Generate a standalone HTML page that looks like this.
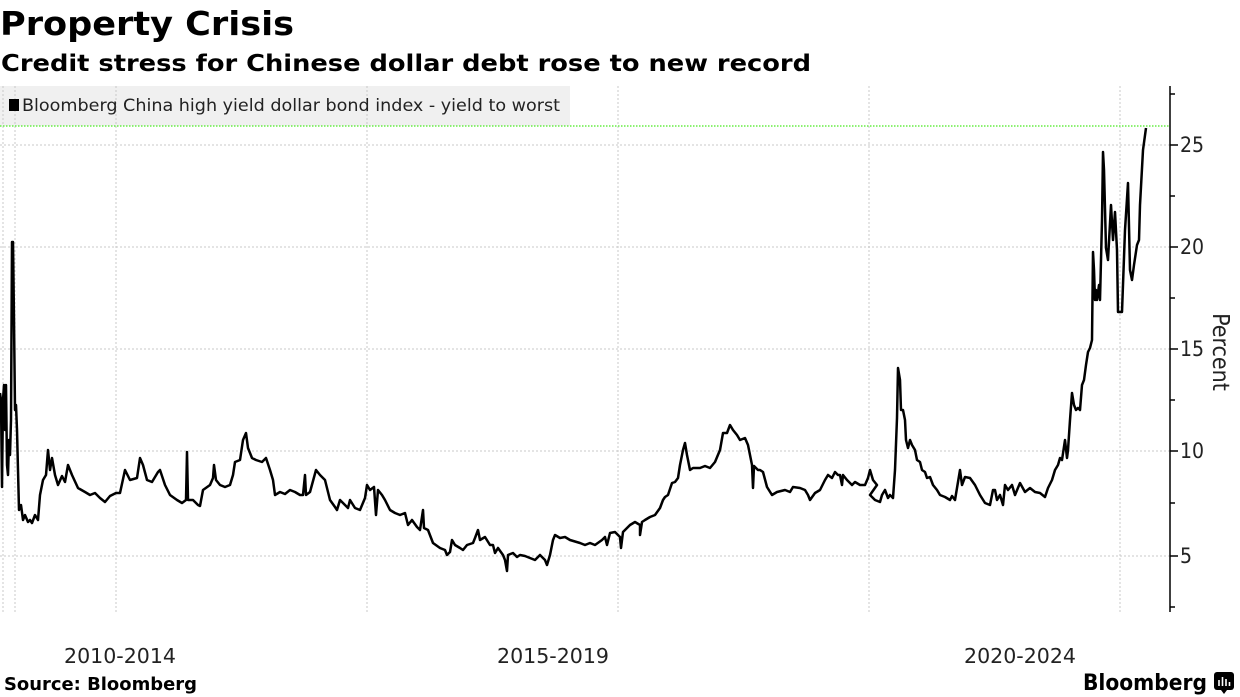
<!DOCTYPE html>
<html><head><meta charset="utf-8"><style>
html,body{margin:0;padding:0;background:#fff;width:1240px;height:697px;overflow:hidden}
svg{display:block}
text{font-family:"DejaVu Sans Condensed","Liberation Sans",sans-serif}
</style></head><body>
<svg width="1240" height="697" viewBox="0 0 1240 697" xmlns="http://www.w3.org/2000/svg">
<text x="0" y="35" font-size="33" font-weight="bold" fill="#000" textLength="294" lengthAdjust="spacingAndGlyphs">Property Crisis</text>
<text x="1" y="71" font-size="23" font-weight="bold" fill="#000" textLength="810" lengthAdjust="spacingAndGlyphs">Credit stress for Chinese dollar debt rose to new record</text>
<rect x="0" y="86" width="570" height="40" fill="#f0f0f0"/>
<g stroke="#c8c8c8" stroke-width="1" stroke-dasharray="2,2" fill="none">
<line x1="0" y1="145" x2="1170" y2="145"/>
<line x1="0" y1="247" x2="1170" y2="247"/>
<line x1="0" y1="349" x2="1170" y2="349"/>
<line x1="0" y1="451" x2="1170" y2="451"/>
<line x1="0" y1="556" x2="1170" y2="556"/>
<line x1="3" y1="86" x2="3" y2="612"/>
<line x1="15" y1="86" x2="15" y2="612"/>
<line x1="116" y1="86" x2="116" y2="612"/>
<line x1="367" y1="86" x2="367" y2="612"/>
<line x1="618" y1="86" x2="618" y2="612"/>
<line x1="869" y1="86" x2="869" y2="612"/>
<line x1="1120" y1="86" x2="1120" y2="612"/>
</g>
<rect x="9" y="99" width="10" height="12" fill="#000"/>
<text x="22" y="111" font-size="17" fill="#222" textLength="538" lengthAdjust="spacingAndGlyphs">Bloomberg China high yield dollar bond index - yield to worst</text>
<line x1="0" y1="126" x2="1170" y2="126" stroke="#66ee44" stroke-width="1.5" stroke-dasharray="1.5,1.5"/>
<g stroke="#000" stroke-width="1.5">
<line x1="1170" y1="86" x2="1170" y2="612"/>
<line x1="1170" y1="145" x2="1178" y2="145"/><line x1="1170" y1="247" x2="1178" y2="247"/><line x1="1170" y1="349" x2="1178" y2="349"/><line x1="1170" y1="451" x2="1178" y2="451"/><line x1="1170" y1="556" x2="1178" y2="556"/>
<line x1="1170" y1="94" x2="1175" y2="94"/><line x1="1170" y1="196" x2="1175" y2="196"/><line x1="1170" y1="298" x2="1175" y2="298"/><line x1="1170" y1="400" x2="1175" y2="400"/><line x1="1170" y1="503" x2="1175" y2="503"/><line x1="1170" y1="607" x2="1175" y2="607"/>
</g>
<g font-size="21" fill="#222">
<text x="1180" y="152">25</text><text x="1180" y="254">20</text><text x="1180" y="356">15</text><text x="1180" y="458">10</text><text x="1180" y="563">5</text>
</g>
<text transform="translate(1213,352) rotate(90)" font-size="23" fill="#222" text-anchor="middle">Percent</text>
<g font-size="20" fill="#222" text-anchor="middle">
<text x="120" y="663" textLength="112" lengthAdjust="spacingAndGlyphs">2010-2014</text>
<text x="553" y="663" textLength="112" lengthAdjust="spacingAndGlyphs">2015-2019</text>
<text x="1020" y="663" textLength="112" lengthAdjust="spacingAndGlyphs">2020-2024</text>
</g>
<text x="4" y="690" font-size="18" font-weight="bold" fill="#000" textLength="193" lengthAdjust="spacingAndGlyphs">Source: Bloomberg</text>
<text x="1083" y="690" font-size="22" font-weight="bold" fill="#000" textLength="124" lengthAdjust="spacingAndGlyphs">Bloomberg</text>
<rect x="1214" y="672" width="20" height="18" rx="3" fill="#000"/>
<path d="M1221 690 L1224 694 L1227 690 Z" fill="#000"/>
<g stroke="#fff" stroke-width="1.6"><line x1="1219" y1="686" x2="1219" y2="680"/><line x1="1222.5" y1="686" x2="1222.5" y2="677"/><line x1="1226" y1="686" x2="1226" y2="679"/><line x1="1229.5" y1="686" x2="1229.5" y2="682"/></g>
<polyline fill="none" stroke="#000" stroke-width="2.5" stroke-linejoin="round" points="
0,393 1,400 2,487 3,400 4,385 5,430 6,385 7,465 8,475 9,440 10,455 11,420 12,242 13,242 14,320 15,410 16,405 17,430 18,470 19,510 21,505 23,520 25,515 28,522 30,520 32,523 35,515 38,520 40,495 43,480 46,475 48,450 50,470 52,458 55,475 58,485 62,476 65,482 68,465 72,475 78,488 85,492 90,495 95,493 100,498 105,502 110,496 116,493
120,493 125,470 130,480 137,478 140,458 143,465 147,480 152,482 158,472 160,470 165,485 170,495 177,500 182,503 186,500 187,452 188,500 193,500 198,505 200,506 203,490 210,485 213,478 214,465 216,480 220,485 225,487 230,485 233,475 235,462 240,460 243,440 246,433 248,448 252,458 256,460 262,462 266,458 270,470 273,480 275,495 280,492 285,494 290,490 295,492 300,495 303,495 305,475 306,495 310,492 316,470 320,475 325,480 330,500 335,507 337,510 340,500 345,505 348,508 350,500 355,508 360,510 365,498 367,485 370,490 374,487 376,515 378,490 382,495 385,500 390,510 395,513 400,515 405,513 408,525 412,520 417,527 420,530 423,510 424,528
428,530 433,543 440,548 445,550 447,555 450,552 452,540 455,545 460,548 463,550 467,545 473,543 475,538 478,530 480,540 485,537 490,545 493,545 495,553 498,548 503,555 505,560 507,571 508,555 513,553 517,557 520,555 525,556 530,558 535,560 540,555 545,560 547,565 550,555 553,540 555,535 560,538 565,537 570,540 580,543 585,545 590,543 595,545 602,540 605,537 607,545 610,533 615,532 620,537 621,548 623,532 627,528 630,525 635,522 640,525 640,535 642,522 645,520 650,517 655,515 660,508 663,500 665,497 668,495 672,483 675,482 678,478 680,465 683,450 685,443 687,455 690,470 693,468 700,468 705,466 710,468 715,462 720,450 723,433 727,433 730,425 733,430 737,435 740,440 745,438 748,445 750,455 752,465 753,488 754,466 758,470
760,470 763,472 767,487 772,495 777,492 785,490 790,492 793,487 800,488 805,490 808,495 810,500 815,493 820,490 825,480 828,475 832,478 835,472 838,475 840,475 842,485 843,475 847,480 852,485 855,482 860,485 865,485 868,478 870,470 873,480 877,485 870,495 875,500 880,502 882,495 885,490 888,498 890,495 893,498 895,470 897,418 898,368 900,380 901,410 903,410 905,420 906,440 908,448 910,440 912,445 915,450 917,460 920,462 922,470 925,472 927,478 930,477 933,485 937,490 940,495 945,497 950,500 952,496 955,500 957,488 960,470 962,485 965,477 970,478 975,485 980,495 985,503 990,505 993,490 995,490 997,500 1000,495 1003,505 1005,485 1008,490 1012,485 1015,495 1020,483 1025,492 1030,488 1035,492 1040,493 1045,497 1048,488 1052,480 1055,470 1058,465 1060,458 1062,460 1065,440 1067,458 1068,450 1070,420 1072,393 1074,405 1076,410 1078,408 1080,410 1082,385 1084,380 1086,365 1088,352 1090,348 1092,340
1093,252 1094,270 1095,300 1096,290 1097,300 1099,285 1100,300 1102,220 1103,152 1104,170 1106,248 1108,260 1111,205 1113,240 1115,212 1117,250 1118,312 1122,312 1125,230 1128,183 1130,270 1132,280 1134,265 1137,245 1139,240 1140,205 1143,150 1146,128"/>
</svg>
</body></html>
